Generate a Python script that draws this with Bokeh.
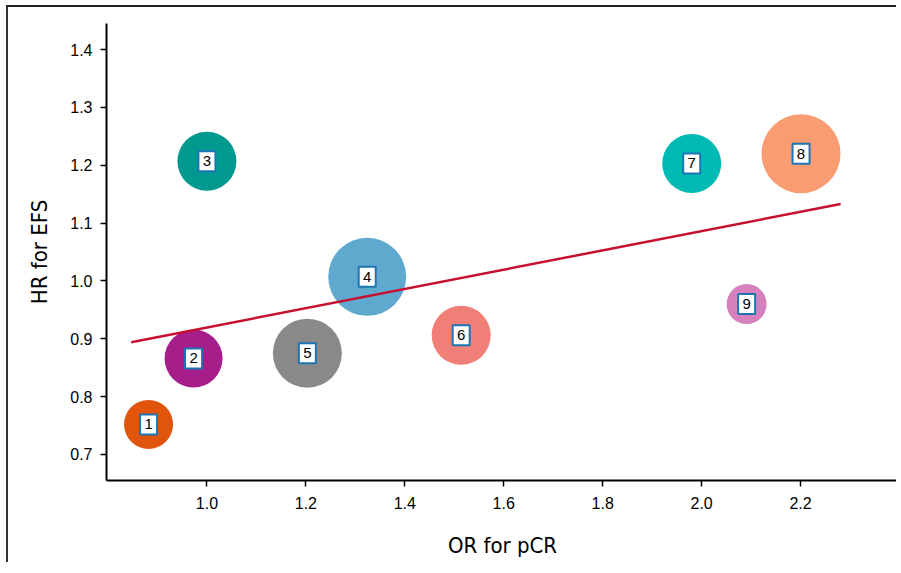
from bokeh.plotting import figure
from bokeh.models import ColumnDataSource, FixedTicker, Range1d, NumeralTickFormatter
from bokeh.embed import file_html
from bokeh.resources import INLINE

# ---- data ----
labels = ["1", "2", "3", "4", "5", "6", "7", "8", "9"]
or_pcr = [0.882, 0.973, 1.000, 1.324, 1.203, 1.514, 1.980, 2.201, 2.091]
hr_efs = [0.752, 0.866, 1.207, 1.007, 0.875, 0.906, 1.203, 1.220, 0.960]
bubble_size = [49, 58, 59, 78, 69, 59, 59, 79, 40]
colors = ["#E0540C", "#A61E8A", "#00998F", "#60A9CE", "#898989",
          "#F07F77", "#00BBB4", "#F99C72", "#D681BB"]

fit_x = [0.847, 2.281]
fit_y = [0.894, 1.133]

x_ticks = [1.0, 1.2, 1.4, 1.6, 1.8, 2.0, 2.2]
y_ticks = [0.7, 0.8, 0.9, 1.0, 1.1, 1.2, 1.3, 1.4]

src = ColumnDataSource(dict(x=or_pcr, y=hr_efs, s=bubble_size, c=colors, t=labels))

TITLE_FONT = "'DejaVu Sans Condensed', 'Liberation Sans', sans-serif"

p = figure(width=890, height=557, output_backend="svg", toolbar_location=None,
           x_range=Range1d(0.797, 2.398), y_range=Range1d(0.655, 1.445),
           min_border_left=98, min_border_top=16, min_border_bottom=84, min_border_right=0)
p.styles = {"margin-left": "6px", "margin-top": "5px",
            "border-left": "2px solid #333", "border-top": "2px solid #222"}
p.outline_line_color = None
p.grid.visible = False
p.background_fill_color = "white"
p.border_fill_color = "white"

p.scatter("x", "y", size="s", fill_color="c", line_color=None, source=src)
p.line(fit_x, fit_y, line_color="#C8102E", line_width=2.5)
p.rect("x", "y", width=17, height=20, width_units="screen", height_units="screen",
       fill_color="white", line_color="#1B75B3", line_width=2, source=src)
p.text("x", "y", text="t", source=src, text_align="center", text_baseline="middle",
       text_font_size="15px", text_color="black")

for ax in (p.xaxis, p.yaxis):
    ax.axis_line_color = "black"
    ax.axis_line_width = 2
    ax.major_tick_line_color = "black"
    ax.major_tick_line_width = 1.5
    ax.major_tick_out = 6
    ax.major_tick_in = 0
    ax.minor_tick_line_color = None
    ax.major_label_text_font = "Liberation Sans"
    ax.major_label_text_font_size = "16px"
    ax.major_label_text_color = "black"
    ax.axis_label_text_font = TITLE_FONT
    ax.axis_label_text_font_size = "22px"
    ax.axis_label_text_font_style = "normal"
    ax.axis_label_text_color = "black"
    ax.formatter = NumeralTickFormatter(format="0.0")

p.xaxis.ticker = FixedTicker(ticks=x_ticks)
p.yaxis.ticker = FixedTicker(ticks=y_ticks)
p.xaxis.major_label_standoff = 10
p.yaxis.major_label_standoff = 8
p.xaxis.axis_label = "OR for pCR"
p.yaxis.axis_label = "HR for EFS"
p.xaxis.axis_label_standoff = 21
p.yaxis.axis_label_standoff = 15

open("out.html", "w").write(file_html(p, INLINE))
